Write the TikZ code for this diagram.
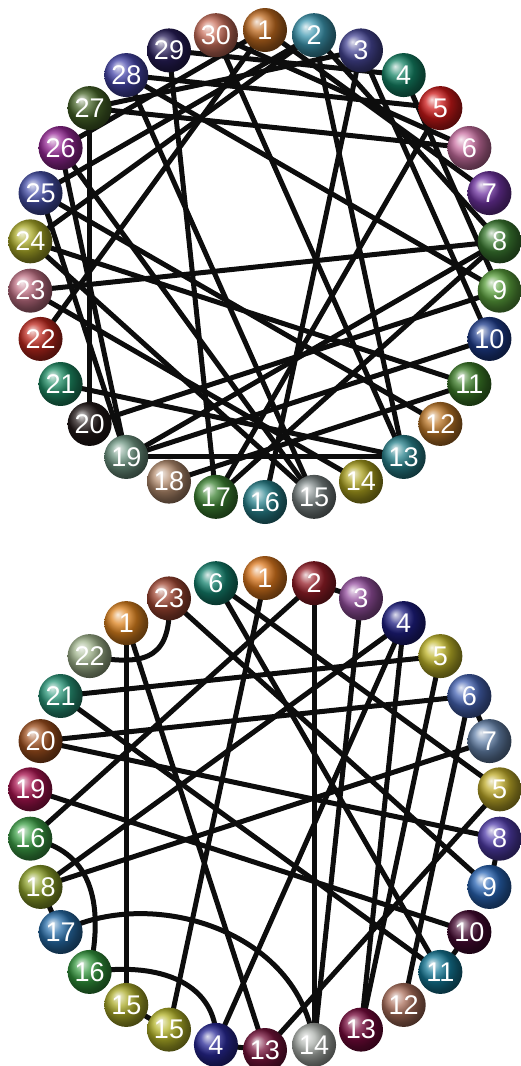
\documentclass[tikz,border=0pt]{standalone}
\usepackage{fontspec}
\setmainfont{Liberation Sans}
\begin{document}
\begin{tikzpicture}[x=1pt,y=-1pt,
  ball/.style={circle,minimum size=44pt,inner sep=0pt,shading=ball,ball color=#1,text=white,font=\fontsize{27}{27}\selectfont},
  edge/.style={line width=5pt,color=black!95}]
\useasboundingbox (0,0) rectangle (520,1066);
\def\R{236}
% ---------- top graph ----------
\foreach \i in {1,...,30}{
  \coordinate (t\i) at ({265+\R*sin(12*(\i-1))},{266-\R*cos(12*(\i-1))});
}
\foreach \a/\b in {1/7,1/22,1/26,2/8,2/24,2/25,2/13,3/16,3/10,3/27,4/29,4/9,5/17,5/28,6/27,6/30,8/23,8/17,8/19,9/28,9/20,10/19,11/24,11/18,13/19,13/30,13/21,15/28,15/24,15/26,19/25,19/26,20/27,12/25,14/23,17/29}{
  \draw[edge] (t\a) -- (t\b);
}
\foreach \i/\c in {1/{rgb,255:red,190;green,105;blue,30},2/{rgb,255:red,60;green,150;blue,175},3/{rgb,255:red,70;green,70;blue,150},4/{rgb,255:red,20;green,130;blue,100},5/{rgb,255:red,205;green,25;blue,25},6/{rgb,255:red,200;green,110;blue,160},7/{rgb,255:red,110;green,50;blue,160},8/{rgb,255:red,60;green,125;blue,50},9/{rgb,255:red,90;green,160;blue,60},10/{rgb,255:red,30;green,60;blue,140},11/{rgb,255:red,60;green,125;blue,40},12/{rgb,255:red,190;green,120;blue,40},13/{rgb,255:red,40;green,130;blue,140},14/{rgb,255:red,170;green,160;blue,30},15/{rgb,255:red,120;green,130;blue,130},16/{rgb,255:red,40;green,130;blue,140},17/{rgb,255:red,60;green,130;blue,50},18/{rgb,255:red,180;green,140;blue,110},19/{rgb,255:red,110;green,150;blue,130},20/{rgb,255:red,35;green,25;blue,25},21/{rgb,255:red,30;green,140;blue,100},22/{rgb,255:red,190;green,40;blue,30},23/{rgb,255:red,190;green,110;blue,130},24/{rgb,255:red,170;green,170;blue,40},25/{rgb,255:red,70;green,80;blue,170},26/{rgb,255:red,150;green,40;blue,150},27/{rgb,255:red,70;green,100;blue,40},28/{rgb,255:red,70;green,70;blue,170},29/{rgb,255:red,40;green,30;blue,90},30/{rgb,255:red,200;green,110;blue,90}}{
  \node[ball=\c] (T\i) at (t\i) {\i};
}
% ---------- bottom graph ----------
\foreach \i in {1,...,30}{
  \coordinate (b\i) at ({265+\R*sin(12*(\i-1))},{814-\R*cos(12*(\i-1))});
}
\foreach \a/\b in {28/19,28/16,26/5,25/6,25/9,2/23,22/4,22/7,17/4,1/18,6/13,5/14,30/8,3/15,4/14,2/15,24/11,26/12,16/8,29/10,30/12,2/3,6/7,9/10,11/12,16/17,18/19,21/22}{
  \draw[edge] (b\a) -- (b\b);
}
\draw[edge] (b29) .. controls (172,655) and (150,668) .. (b27);
\draw[edge] (b20) .. controls (105,900) and (90,850) .. (b23);
\draw[edge] (b21) .. controls (150,885) and (300,930) .. (b15);
\draw[edge] (b20) .. controls (170,960) and (220,990) .. (b17);
\foreach \i/\l/\c in {1/1/{rgb,255:red,220;green,120;blue,30},2/2/{rgb,255:red,150;green,30;blue,40},3/3/{rgb,255:red,150;green,80;blue,160},4/4/{rgb,255:red,30;green,30;blue,130},5/5/{rgb,255:red,190;green,180;blue,40},6/6/{rgb,255:red,70;green,100;blue,180},7/7/{rgb,255:red,100;green,130;blue,170},8/5/{rgb,255:red,190;green,170;blue,40},9/8/{rgb,255:red,80;green,60;blue,170},10/9/{rgb,255:red,40;green,100;blue,180},11/10/{rgb,255:red,70;green,10;blue,50},12/11/{rgb,255:red,20;green,120;blue,150},13/12/{rgb,255:red,170;green,110;blue,90},14/13/{rgb,255:red,120;green,10;blue,60},15/14/{rgb,255:red,170;green,175;blue,170},16/13/{rgb,255:red,120;green,20;blue,60},17/4/{rgb,255:red,40;green,40;blue,150},18/15/{rgb,255:red,180;green,180;blue,40},19/15/{rgb,255:red,170;green,170;blue,40},20/16/{rgb,255:red,50;green,150;blue,60},21/17/{rgb,255:red,40;green,110;blue,170},22/18/{rgb,255:red,140;green,160;blue,40},23/16/{rgb,255:red,60;green,160;blue,70},24/19/{rgb,255:red,170;green,20;blue,80},25/20/{rgb,255:red,160;green,80;blue,30},26/21/{rgb,255:red,40;green,150;blue,120},27/22/{rgb,255:red,160;green,180;blue,140},28/1/{rgb,255:red,220;green,130;blue,30},29/23/{rgb,255:red,160;green,70;blue,50},30/6/{rgb,255:red,20;green,130;blue,110}}{
  \node[ball=\c] (B\i) at (b\i) {\l};
}
\end{tikzpicture}
\end{document}
